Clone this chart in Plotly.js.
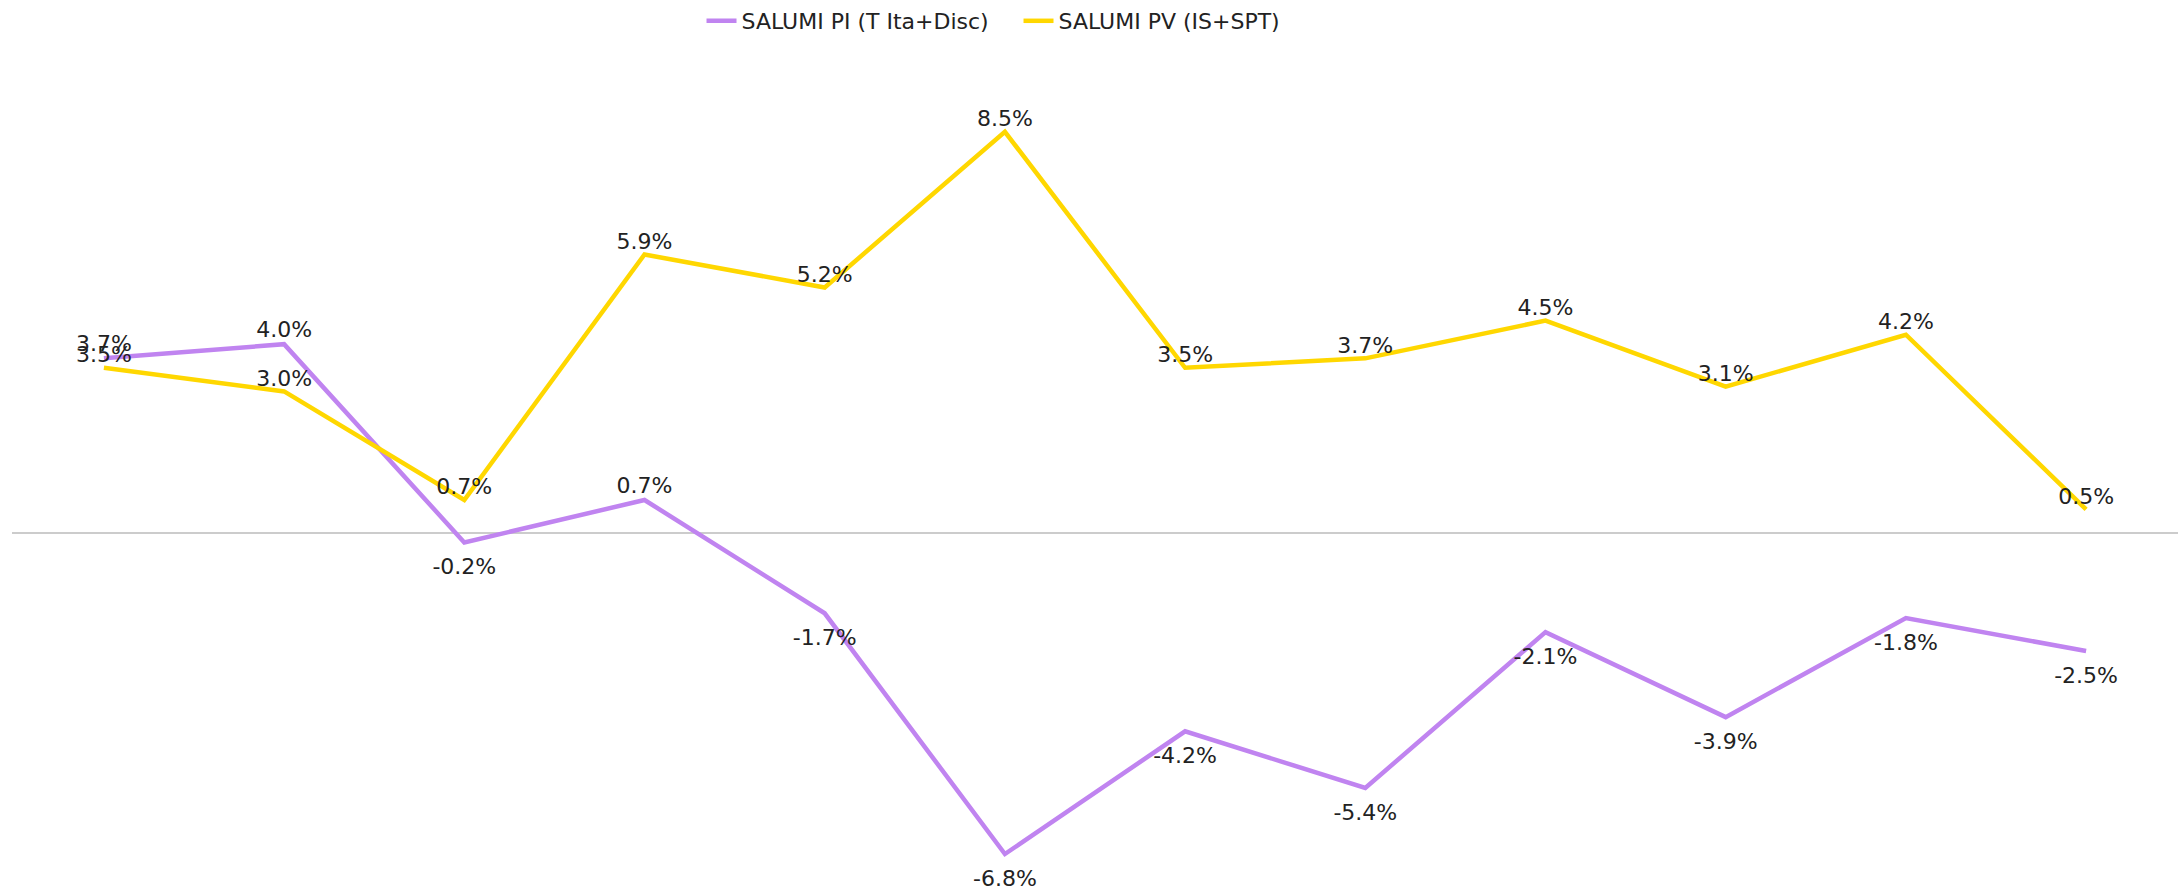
<!DOCTYPE html>
<html>
<head>
<meta charset="utf-8">
<script src="https://cdn.plot.ly/plotly-3.0.1.min.js"></script>
<style>html,body{margin:0;padding:0;background:#fff;}#chart{width:2182px;height:893px;}</style>
</head>
<body>
<div id="chart"></div>
<script>
const periods = ["P1","P2","P3","P4","P5","P6","P7","P8","P9","P10","P11","P12"];
const salumiPI = [3.7, 4.0, -0.2, 0.7, -1.7, -6.8, -4.2, -5.4, -2.1, -3.9, -1.8, -2.5];
const salumiPV = [3.5, 3.0, 0.7, 5.9, 5.2, 8.5, 3.5, 3.7, 4.5, 3.1, 4.2, 0.5];
const seriesNames = ["SALUMI PI (T Ita+Disc)", "SALUMI PV (IS+SPT)"];

const FONT = "DejaVu Sans, sans-serif";
const posPI = salumiPI.map(v => v >= 0 ? "top center" : "bottom center");
const sizePI = salumiPI.map(v => v >= 0 ? 1 : 23);

const traces = [
  {
    x: periods, y: salumiPI, name: seriesNames[0], type: "scatter", mode: "lines+markers+text",
    line: {color: "#C084F0", width: 4.5},
    marker: {size: sizePI, color: "rgba(0,0,0,0)", line: {width: 0}},
    texttemplate: "%{y:.1f}%", textposition: posPI,
    textfont: {family: FONT, size: 22, color: "#222"},
    cliponaxis: false, hoverinfo: "skip"
  },
  {
    x: periods, y: salumiPV, name: seriesNames[1], type: "scatter", mode: "lines+text",
    line: {color: "#FFD700", width: 4.5},
    texttemplate: "%{y:.1f}%", textposition: "top center",
    textfont: {family: FONT, size: 22, color: "#222"},
    cliponaxis: false, hoverinfo: "skip"
  }
];

const layout = {
  width: 2182, height: 893,
  paper_bgcolor: "#fff", plot_bgcolor: "#fff",
  margin: {l: 12, r: 4, t: 60, b: 13},
  font: {family: FONT, size: 22, color: "#222"},
  showlegend: true,
  legend: {orientation: "h", xref: "container", yref: "container", x: 0.3215, xanchor: "left", y: 1, yanchor: "top",
           font: {family: FONT, size: 22, color: "#222"}, itemwidth: 30, entrywidth: 272, entrywidthmode: "pixels"},
  xaxis: {range: [-0.51, 11.51], showticklabels: false, showgrid: false, zeroline: false, showline: false, ticks: ""},
  yaxis: {range: [-7.35, 10.02], showticklabels: false, showgrid: false, zeroline: true, zerolinecolor: "#cccccc", zerolinewidth: 2, showline: false, ticks: ""}
};

Plotly.newPlot("chart", traces, layout, {displayModeBar: false, staticPlot: true});
</script>
</body>
</html>
